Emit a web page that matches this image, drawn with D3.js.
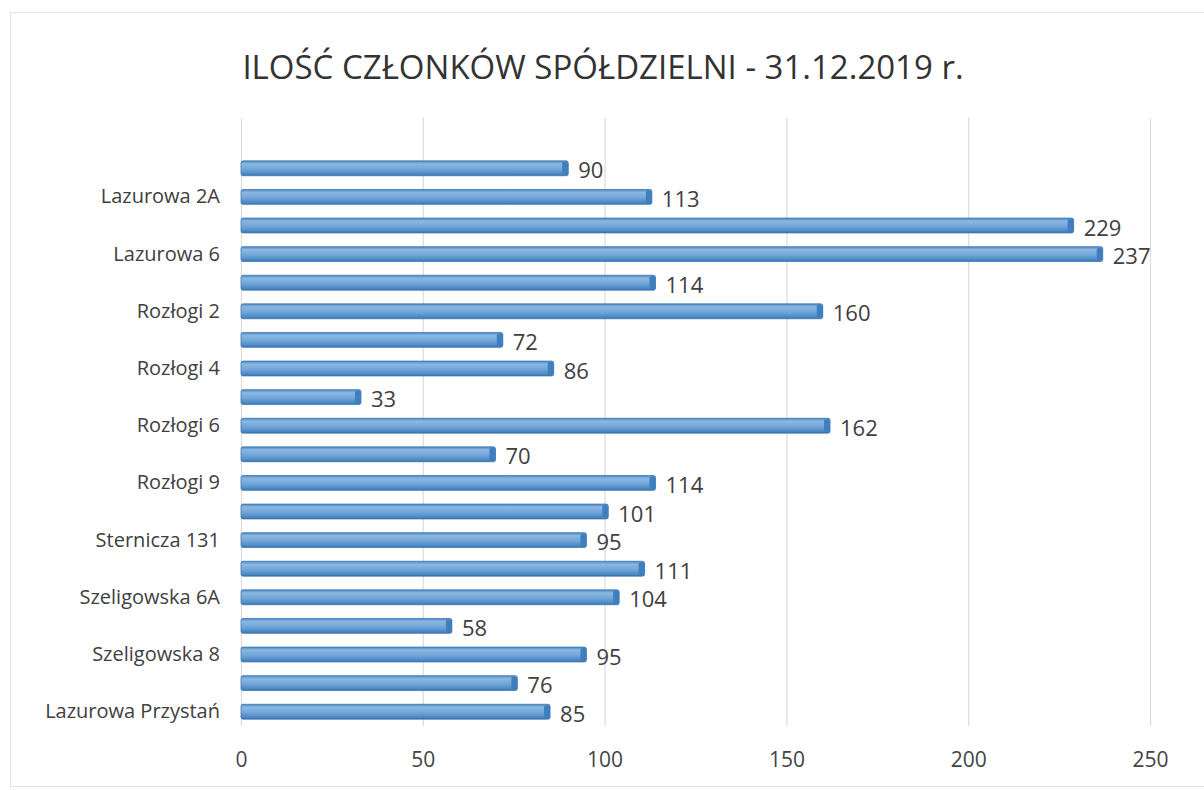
<!DOCTYPE html>
<html>
<head>
<meta charset="utf-8">
<script src="https://cdn.jsdelivr.net/npm/d3@7"></script>
<style>
  body { margin: 0; background: #fff; }
  svg { font-family: "Open Sans", "Noto Sans", sans-serif; }
</style>
</head>
<body>
<svg width="1204" height="790"></svg>
<script>
// names of the rows, only every second one is printed on the axis
const names = [
  "", "Lazurowa 2A", "", "Lazurowa 6", "", "Rozłogi 2", "", "Rozłogi 4",
  "", "Rozłogi 6", "", "Rozłogi 9", "", "Sternicza 131", "", "Szeligowska 6A",
  "", "Szeligowska 8", "", "Lazurowa Przystań"
];
const counts = [90, 113, 229, 237, 114, 160, 72, 86, 33, 162, 70, 114, 101, 95, 111, 104, 58, 95, 76, 85];
const xTicks = [0, 50, 100, 150, 200, 250];
const title = "ILOŚĆ CZŁONKÓW SPÓŁDZIELNI - 31.12.2019 r.";

const width = 1204, height = 790;
const margin = { top: 154, right: 54, bottom: 64, left: 241 };

const svg = d3.select("svg");

// outer frame of the chart area
svg.append("rect")
  .attr("x", 10.5).attr("y", 12.5)
  .attr("width", 1200).attr("height", 774)
  .attr("fill", "none")
  .attr("stroke", "#e3e3e3");

svg.append("text")
  .attr("x", 603).attr("y", 79)
  .attr("text-anchor", "middle")
  .attr("font-size", 33)
  .attr("fill", "#333")
  .text(title);

const x = d3.scaleLinear()
  .domain([0, 250])
  .range([margin.left, width - margin.right]);

const y = d3.scaleBand()
  .domain(d3.range(counts.length))
  .range([margin.top, height - margin.bottom])
  .paddingInner(0.48)
  .paddingOuter(0.24);

// gradient for the bars
const defs = svg.append("defs");
const grad = defs.append("linearGradient")
  .attr("id", "barGrad")
  .attr("x1", 0).attr("y1", 0).attr("x2", 0).attr("y2", 1);
grad.append("stop").attr("offset", "0%").attr("stop-color", "#4a86c0");
grad.append("stop").attr("offset", "20%").attr("stop-color", "#8bb8e2");
grad.append("stop").attr("offset", "55%").attr("stop-color", "#72a6d8");
grad.append("stop").attr("offset", "85%").attr("stop-color", "#4f8cc8");
grad.append("stop").attr("offset", "100%").attr("stop-color", "#3a73ad");

// gridlines
svg.append("g")
  .attr("class", "grid")
  .attr("transform", `translate(0, ${height - margin.bottom})`)
  .call(d3.axisBottom(x).tickValues(xTicks).tickSize(-(height - margin.bottom - 118)).tickFormat(""))
  .call(g => g.select(".domain").remove())
  .call(g => g.selectAll("line").attr("stroke", "#dcdcdc").attr("stroke-width", 1.2));

// x axis labels
svg.append("g")
  .attr("class", "x-axis")
  .attr("transform", `translate(0, ${height - margin.bottom})`)
  .call(d3.axisBottom(x).tickValues(xTicks).tickSize(0).tickPadding(26))
  .call(g => g.select(".domain").remove())
  .call(g => g.selectAll("text")
    .attr("font-size", 21)
    .attr("font-family", "'Open Sans', sans-serif")
    .attr("fill", "#444"));

// y axis labels
svg.append("g")
  .attr("class", "y-axis")
  .attr("transform", `translate(${margin.left}, 0)`)
  .call(d3.axisLeft(y).tickSize(0).tickPadding(21).tickFormat(i => names[i]))
  .call(g => g.select(".domain").remove())
  .call(g => g.selectAll("text")
    .attr("font-size", 20)
    .attr("font-family", "'Open Sans', sans-serif")
    .attr("fill", "#404040"));

const bars = svg.append("g")
  .selectAll("g.bar")
  .data(counts)
  .enter()
  .append("g")
  .attr("class", "bar");

bars.append("rect")
  .attr("x", x(0))
  .attr("y", (d, i) => y(i))
  .attr("width", d => x(d) - x(0))
  .attr("height", y.bandwidth())
  .attr("rx", 2)
  .attr("fill", "url(#barGrad)")
  .attr("stroke", "#3f78b2")
  .attr("stroke-width", 0.8);

// darker end cap of each bar
bars.append("rect")
  .attr("x", d => x(d) - 6)
  .attr("y", (d, i) => y(i) + 1)
  .attr("width", 6)
  .attr("height", y.bandwidth() - 2)
  .attr("rx", 2)
  .attr("fill", "#3f7fbf");

bars.append("text")
  .attr("x", d => x(d) + 10)
  .attr("y", (d, i) => y(i) + y.bandwidth() / 2 + 10)
  .attr("font-size", 22)
  .attr("fill", "#404040")
  .text(d => d);
</script>
</body>
</html>
